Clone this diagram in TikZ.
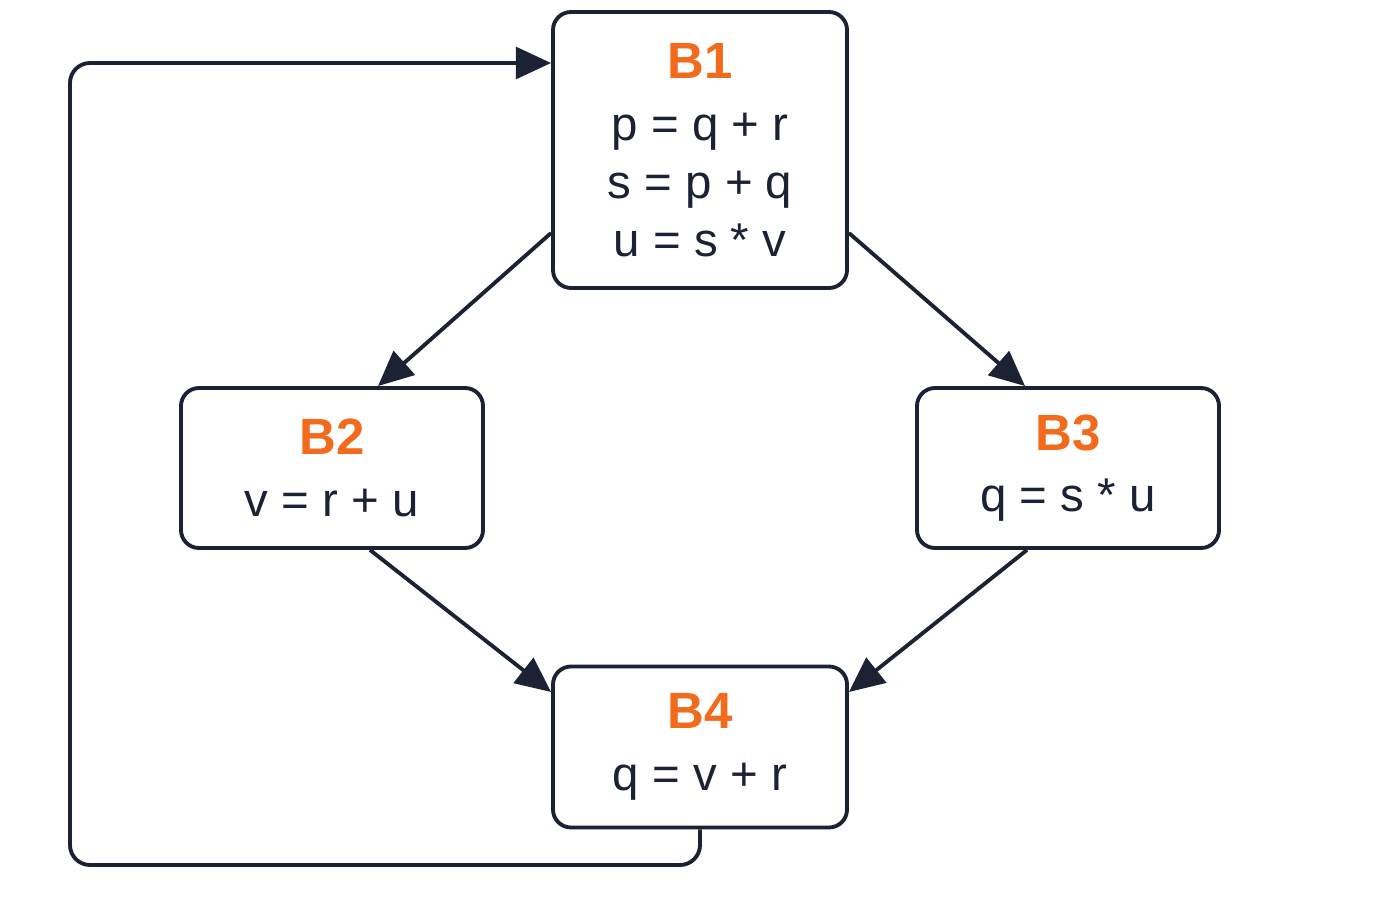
\documentclass[tikz,border=0pt]{standalone}
\usepackage{fontspec}
\setmainfont{Liberation Sans}
\usetikzlibrary{arrows.meta}
\definecolor{ink}{HTML}{1B2233}
\definecolor{ttl}{HTML}{F26A1B}
\begin{document}
\begin{tikzpicture}[
  blk/.style={draw=ink,line width=1.1pt,rounded corners=0.18cm,fill=white,align=center,
    font=\fontsize{13.5}{16.5}\selectfont,text=ink,inner sep=0pt},
  arr/.style={draw=ink,line width=1.1pt,-{Triangle[length=10pt,width=9pt]}}
]
\useasboundingbox (0,0) rectangle (14,9);
\newcommand{\ttlx}[1]{{\color{ttl}\fontsize{14.5}{16.5}\selectfont\bfseries #1}}
\node[blk,minimum width=2.94cm,minimum height=2.76cm] (b1) at (7.00,7.50) {\ttlx{B1}\\[1pt] p = q + r\\ s = p + q\\ u = s * v};
\node[blk,minimum width=3.02cm,minimum height=1.60cm] (b2) at (3.32,4.32) {\ttlx{B2}\\[1pt] v = r + u};
\node[blk,minimum width=3.02cm,minimum height=1.60cm] (b3) at (10.68,4.32) {\ttlx{B3}\\[1pt] q = s * u};
\node[blk,minimum width=2.94cm,minimum height=1.61cm] (b4) at (7.00,1.53) {\ttlx{B4}\\[1pt] q = v + r};
\draw[arr] ([yshift=-0.83cm]b1.west) -- ([xshift=0.46cm]b2.north);
\draw[arr] ([yshift=-0.83cm]b1.east) -- ([xshift=-0.43cm]b3.north);
\draw[arr] ([xshift=0.38cm]b2.south) -- ([yshift=0.55cm]b4.west);
\draw[arr] ([xshift=-0.41cm]b3.south) -- ([yshift=0.55cm]b4.east);
\coordinate (c1) at (7.00,0.35);
\coordinate (c2) at (0.70,0.35);
\coordinate (c3) at (0.70,8.37);
\draw[arr,rounded corners=0.2cm] (b4.south) -- (c1) -- (c2) -- (c3) -- ([yshift=0.87cm]b1.west);
\end{tikzpicture}
\end{document}
